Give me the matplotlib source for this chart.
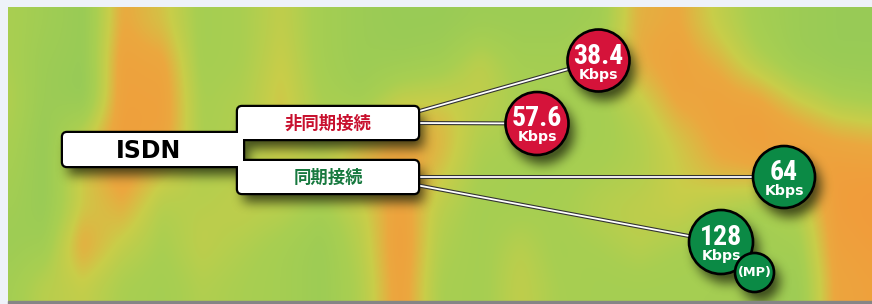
import numpy as np
import matplotlib
matplotlib.use("Agg")
import matplotlib.pyplot as plt
from matplotlib import font_manager
from matplotlib.patches import FancyBboxPatch, Circle, Rectangle
from matplotlib.colors import LinearSegmentedColormap

# 内容
root_label = "ISDN"
group_labels = ["非同期接続", "同期接続"]
group_colors = ["#C8102E", "#17793F"]
speeds = ["38.4", "57.6", "64", "128"]
speed_group = [0, 0, 1, 1]
speed_unit = "Kbps"
extra_label = "(MP)"

# 背景の色むら (0=緑, 1=オレンジ), 目で読んだ粗い格子
bg_x = [8, 40, 80, 120, 160, 200, 240, 280, 320, 360, 400, 440, 480, 520, 560, 600, 640, 680, 720, 760, 800, 840, 872]
bg_rows = [
    [.35, .25, .15, .75, .60, .30, .35, .50, .30, .20, .15, .15, .20, .20, .20, .25, .70, .75, .50, .30, .20, .15, .15],
    [.35, .20, .15, .85, .80, .30, .35, .55, .30, .20, .20, .25, .50, .30, .30, .40, .75, .85, .70, .40, .20, .15, .15],
    [.40, .20, .10, .85, .85, .35, .40, .60, .35, .25, .50, .55, .50, .35, .30, .30, .50, .80, .85, .80, .55, .35, .30],
    [.35, .15, .50, .90, .85, .35, .40, .60, .40, .60, .80, .70, .40, .35, .30, .30, .40, .60, .80, .90, .85, .75, .70],
    [.30, .15, .60, .85, .60, .40, .45, .50, .50, .70, .85, .60, .35, .30, .30, .35, .40, .55, .70, .75, .85, .90, .90],
    [.25, .15, .55, .70, .40, .45, .50, .45, .30, .50, .85, .45, .30, .30, .35, .45, .50, .55, .40, .30, .40, .90, .95],
    [.20, .25, .80, .50, .35, .50, .40, .30, .20, .45, .90, .40, .30, .45, .30, .35, .45, .35, .30, .25, .30, .85, .90],
    [.30, .45, .50, .35, .30, .40, .35, .30, .20, .40, .85, .35, .30, .50, .35, .30, .30, .30, .30, .30, .20, .80, .85],
]

# レイアウト (ピクセル)
W, H = 872, 304
root_box = (63, 133, 180, 33)
group_boxes = [(238, 107, 180, 32), (238, 161, 180, 32)]
line_starts = [(416, 112), (416, 123), (416, 177), (416, 185)]
circle_xy = [(598.5, 60.5), (537, 123.5), (784, 177), (721, 242)]
circle_r = [31, 31.5, 31, 32]
mp_xy, mp_r = (754.5, 272.5), 19.5
bubble_colors = {0: "#D5133A", 1: "#0B8A45"}

# 細い数字用フォント (あれば)
names = {f.name for f in font_manager.fontManager.ttflist}
num_family = "DejaVu Sans"
for cand in ["Liberation Sans Narrow", "Roboto Condensed", "Open Sans Condensed"]:
    if cand in names:
        num_family = cand
        break

fig = plt.figure(figsize=(W / 100, H / 100), dpi=100)
fig.patch.set_facecolor("#EEF2F9")
ax = fig.add_axes([0, 0, 1, 1])
ax.set_xlim(0, W)
ax.set_ylim(H, 0)
ax.axis("off")

# 背景
cmap = LinearSegmentedColormap.from_list(
    "bg", [(0, "#8DC85A"), (0.35, "#A9CF51"), (0.55, "#C9CD49"),
           (0.75, "#EBA83F"), (1, "#F3983A")])
bg = np.array(bg_rows)
xs = np.linspace(bg_x[0], bg_x[-1], 110)
bg_fine = np.array([np.interp(xs, bg_x, r) for r in bg])
ax.imshow(bg_fine, cmap=cmap, vmin=0, vmax=1, extent=(8, W, 301, 7),
          aspect="auto", interpolation="bicubic", zorder=0)

# 影
def blur(a, r):
    k = 2 * r + 1
    for axis in (0, 1):
        pad = [(r + 1, r) if i == axis else (0, 0) for i in range(2)]
        c = np.cumsum(np.pad(a, pad, mode="edge"), axis=axis)
        a = (c[k:] - c[:-k]) / k if axis == 0 else (c[:, k:] - c[:, :-k]) / k
    return a

Y, X = np.mgrid[0:H, 0:W] + 0.5
dx, dy = 5, 9
mask = np.zeros((H, W))
for (bx, by, bw, bh) in [root_box] + group_boxes:
    mask[(X >= bx + dx) & (X <= bx + bw + dx) & (Y >= by + dy) & (Y <= by + bh + dy)] = 1
for (cx, cy), r in zip(circle_xy + [mp_xy], circle_r + [mp_r]):
    mask[(X - cx - dx) ** 2 + (Y - cy - dy) ** 2 <= r ** 2] = 1
for _ in range(3):
    mask = blur(mask, 5)
shadow = np.zeros((H, W, 4))
shadow[..., :3] = [0.12, 0.15, 0.05]
shadow[..., 3] = np.clip(mask * 1.15, 0, 1) * 0.7
shadow[:8, :, 3] = 0
shadow[:, :8, 3] = 0
ax.imshow(shadow, extent=(0, W, H, 0), aspect="auto", interpolation="bilinear", zorder=1)

# 下の灰色の帯
ax.add_patch(Rectangle((8, 300.5), W - 8, 4, color="#858585", zorder=1.2))

# 線
for (x0, y0), (x1, y1) in zip(line_starts, circle_xy):
    ax.plot([x0, x1], [y0, y1], color="#333333", lw=2.9, solid_capstyle="butt", zorder=2)
    ax.plot([x0, x1], [y0, y1], color="white", lw=1.3, solid_capstyle="butt", zorder=2.1)

# 箱
boxes = [root_box] + group_boxes
for (bx, by, bw, bh) in boxes:
    ax.add_patch(FancyBboxPatch((bx, by), bw, bh, boxstyle="round,pad=0,rounding_size=4",
                                fc="none", ec="black", lw=3.2, zorder=3))
for (bx, by, bw, bh) in boxes:
    ax.add_patch(FancyBboxPatch((bx, by), bw, bh, boxstyle="round,pad=0,rounding_size=4",
                                fc="white", ec="none", lw=0, zorder=3.1))

ax.text(148, 150.5, root_label, ha="center", va="center", fontsize=17,
        fontweight="heavy", family="DejaVu Sans", color="black", zorder=4)
for (bx, by, bw, bh), lab, col in zip(group_boxes, group_labels, group_colors):
    ax.text(bx + 90, by + bh / 2 + 1, lab, ha="center", va="center", fontsize=12.5,
            fontweight="bold", family=["Noto Sans CJK JP", "DejaVu Sans"], color=col, zorder=4)

# 丸
for (cx, cy), r, s, g in zip(circle_xy, circle_r, speeds, speed_group):
    ax.add_patch(Circle((cx, cy), r, fc=bubble_colors[g], ec="black", lw=1.9, zorder=5))
    ax.text(cx, cy - 4.5, s, ha="center", va="center", fontsize=20, fontweight="bold",
            family=num_family, fontstretch="condensed", color="white", zorder=6)
    ax.text(cx, cy + 14, speed_unit, ha="center", va="center", fontsize=10.2, fontweight="bold",
            family="DejaVu Sans", color="white", zorder=6)

ax.add_patch(Circle(mp_xy, mp_r, fc=bubble_colors[1], ec="black", lw=1.9, zorder=6.5))
ax.text(mp_xy[0], mp_xy[1], extra_label, ha="center", va="center", fontsize=9.3,
        fontweight="bold", family="DejaVu Sans", color="white", zorder=7)

fig.savefig("out.png", dpi=100, facecolor=fig.get_facecolor())
